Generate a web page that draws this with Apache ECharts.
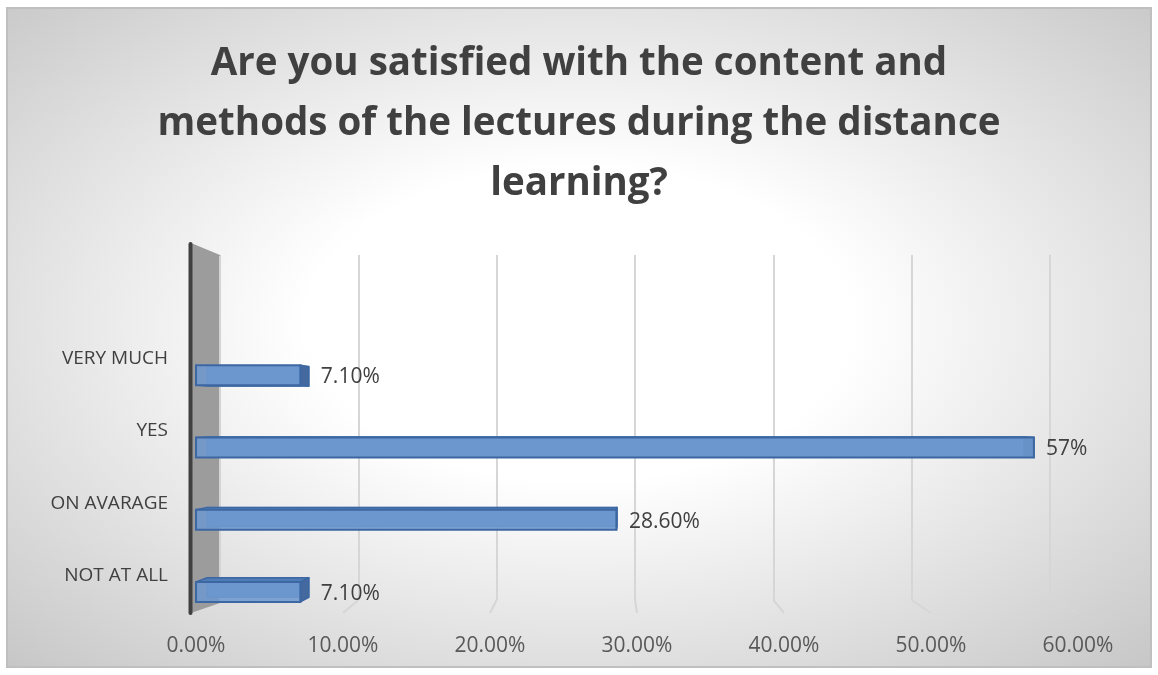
<!DOCTYPE html>
<html>
<head>
<meta charset="utf-8">
<script src="https://cdn.jsdelivr.net/npm/echarts@6/dist/echarts.min.js"></script>
<style>
  html, body { margin: 0; padding: 0; background: #ffffff; }
  #chart { width: 1158px; height: 675px; }
</style>
</head>
<body>
<div id="chart"></div>
<script>
// chart data
const categories = ['NOT AT ALL', 'ON AVARAGE', 'YES', 'VERY MUCH']
const values = [0.071, 0.286, 0.57, 0.071]
const valueLabels = ['7.10%', '28.60%', '57%', '7.10%']
const tickLabels = ['0.00%', '10.00%', '20.00%', '30.00%', '40.00%', '50.00%', '60.00%']

const chart = echarts.init(document.getElementById('chart'))

const textColor = '#404040'
const font = 'Open Sans'

// front plane and back wall boxes
const front = { left: 196, right: 80, top: 339, bottom: 47 }
const back = { left: 220, right: 108, top: 255, bottom: 75 }
const H = 675
// perspective: vanishing point and bar depth factor
const vp = [640, 420]
const depth = 0.025

const project = (p) => [p[0] + depth * (vp[0] - p[0]), p[1] + depth * (vp[1] - p[1])]

const renderBar = (params, api) => {
  const cat = api.value(1)
  const start = api.coord([0, cat])
  const end = api.coord([api.value(0), cat])
  const h = 20
  const x0 = start[0]
  const x1 = end[0]
  const y0 = start[1] - h / 2
  const y1 = start[1] + h / 2

  const fTL = [x0, y0], fTR = [x1, y0], fBR = [x1, y1], fBL = [x0, y1]
  const bTL = project(fTL), bTR = project(fTR), bBR = project(fBR), bBL = project(fBL)

  const stroke = '#3d67a2'
  const children = []

  // back face
  children.push({
    type: 'polygon',
    shape: { points: [bTL, bTR, bBR, bBL] },
    style: { fill: '#5d89c2', stroke: '#4a74ae', lineWidth: 1 }
  })
  // top or bottom face
  const topVisible = bTL[1] < fTL[1]
  children.push({
    type: 'polygon',
    shape: { points: topVisible ? [fTL, bTL, bTR, fTR] : [fBL, bBL, bBR, fBR] },
    style: { fill: '#4f7bb6', stroke: stroke, lineWidth: 1.5, lineJoin: 'round' }
  })
  // end cap
  children.push({
    type: 'polygon',
    shape: { points: [fTR, bTR, bBR, fBR] },
    style: { fill: '#44699e', stroke: stroke, lineWidth: 1.5, lineJoin: 'round' }
  })
  // front face
  children.push({
    type: 'rect',
    shape: { x: x0, y: y0, width: x1 - x0, height: h },
    style: { fill: 'rgba(110,153,207,0.86)', stroke: stroke, lineWidth: 2 }
  })
  // value label
  children.push({
    type: 'text',
    style: {
      text: valueLabels[params.dataIndex],
      x: Math.max(x1, bTR[0]) + 12,
      y: start[1] + 2,
      verticalAlign: 'middle',
      fontFamily: font,
      fontSize: 21,
      fill: textColor
    }
  })
  return { type: 'group', children }
}

const option = {
  animation: false,
  title: {
    text: 'Are you satisfied with the content and\nmethods of the lectures during the distance\nlearning?',
    left: 'center',
    top: 29,
    textStyle: {
      fontFamily: font,
      fontWeight: 'bold',
      fontSize: 38.5,
      lineHeight: 60,
      color: textColor
    }
  },
  grid: [
    // front plane, holds the bars
    front,
    // back wall, holds the gridlines
    back
  ],
  xAxis: [
    {
      type: 'value',
      gridIndex: 0,
      min: 0,
      max: 0.6,
      interval: 0.1,
      axisLine: { show: false },
      axisTick: { show: false },
      splitLine: { show: false },
      axisLabel: {
        margin: 8,
        fontFamily: font,
        fontSize: 21,
        color: '#595959',
        formatter: (v) => tickLabels[Math.round(v * 10)]
      }
    },
    {
      type: 'value',
      gridIndex: 1,
      min: 0,
      max: 0.6,
      interval: 0.1,
      axisLine: { show: false },
      axisTick: { show: false },
      axisLabel: { show: false },
      splitLine: { lineStyle: { color: '#d6d6d6', width: 2 } }
    }
  ],
  yAxis: [
    {
      type: 'category',
      gridIndex: 0,
      data: categories,
      axisLine: { show: false },
      axisTick: { show: false },
      axisLabel: {
        margin: 28,
        verticalAlign: 'bottom',
        lineHeight: 33,
        fontFamily: font,
        fontSize: 19,
        color: textColor
      }
    },
    {
      type: 'category',
      gridIndex: 1,
      data: categories,
      show: false
    }
  ],
  series: [
    {
      type: 'custom',
      xAxisIndex: 0,
      yAxisIndex: 0,
      z: 5,
      data: values.map((v, i) => [v, i]),
      renderItem: renderBar
    }
  ]
}

chart.setOption(option)

// frame, wall, axis line and floor lines
const drawDecor = () => {
  const fw = 1144
  const fh = 659
  const backBottomY = H - back.bottom
  const frontY = backBottomY + 13
  const elements = [
    {
      // background drawn on a square and stretched so the gradient is elliptical
      type: 'rect',
      z: -10,
      silent: true,
      x: 7,
      y: 8,
      scaleX: fw / fh,
      shape: { x: 0, y: 0, width: fh, height: fh },
      style: {
        fill: new echarts.graphic.RadialGradient(0.5, 0.48, 0.85, [
          { offset: 0, color: '#ffffff' },
          { offset: 0.28, color: '#ffffff' },
          { offset: 1, color: '#b8b8b8' }
        ])
      }
    },
    {
      type: 'rect',
      z: -9,
      silent: true,
      shape: { x: 7, y: 8, width: fw, height: fh },
      style: { fill: null, stroke: '#bfbfbf', lineWidth: 2 }
    }
  ]

  // floor lines from back wall down to the front plane
  tickLabels.forEach((t, i) => {
    if (i === 0) return
    const b = chart.convertToPixel({ xAxisIndex: 1 }, i / 10)
    const f = chart.convertToPixel({ xAxisIndex: 0 }, i / 10)
    elements.push({
      type: 'line',
      silent: true,
      z: -1,
      shape: { x1: b, y1: backBottomY, x2: f, y2: frontY },
      style: { stroke: '#d6d6d6', lineWidth: 2 }
    })
  })

  // grey wall on the left
  const wallX = back.left
  elements.push({
    type: 'polygon',
    silent: true,
    z: 1,
    shape: {
      points: [
        [191, back.top - 12],
        [wallX, back.top],
        [wallX, backBottomY + 3],
        [191, frontY]
      ]
    },
    style: { fill: '#9c9c9c' }
  })
  elements.push({
    type: 'line',
    silent: true,
    z: 2,
    shape: { x1: wallX, y1: back.top + 1, x2: wallX, y2: backBottomY + 2 },
    style: { stroke: '#d4d4d4', lineWidth: 2 }
  })
  elements.push({
    type: 'line',
    silent: true,
    z: 3,
    shape: { x1: 190.5, y1: back.top - 11, x2: 190.5, y2: frontY },
    style: { stroke: '#404040', lineWidth: 4, lineCap: 'round' }
  })

  chart.setOption({ graphic: { elements } })
}

drawDecor()
</script>
</body>
</html>
